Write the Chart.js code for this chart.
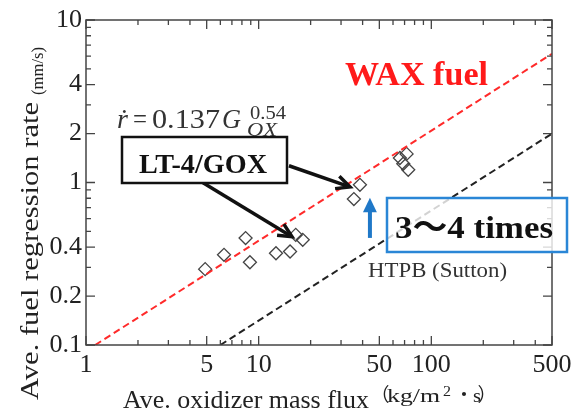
<!DOCTYPE html>
<html>
<head>
<meta charset="utf-8">
<script src="https://cdn.jsdelivr.net/npm/chart.js@4"></script>
<style>
  html, body { margin: 0; padding: 0; background: #fff; }
  #wrap { width: 581px; height: 416px; }
</style>
</head>
<body>
<div id="wrap"><canvas id="regChart" width="581" height="416"></canvas></div>
<script>
// Measured LT-4/GOX points (oxidizer mass flux kg/m2s, regression rate mm/s)
const fluxValues = [4.9, 6.3, 8.4, 8.9, 12.6, 15.2, 16.4, 18.0, 35.6, 38.6, 65.8, 68.8, 71.9, 73.5];
const rateValues = [0.293, 0.359, 0.455, 0.323, 0.367, 0.376, 0.476, 0.444, 0.791, 0.968, 1.415, 1.305, 1.50, 1.198];

// Reference lines (end points as drawn)
const waxLineX = [1.13, 500];
const waxLineY = [0.1, 6.2];
const htpbLineX = [6.0, 500];
const htpbLineY = [0.1, 2.0];

// Tick labels
const xTickLabels = [1, 5, 10, 50, 100, 500];
const yTickLabels = [0.1, 0.2, 0.4, 1, 2, 4, 10];

const SERIF = "'Liberation Serif', 'Times New Roman', serif";
const CJK = "'Liberation Serif', 'Noto Sans CJK JP', serif";

function toPoints(xs, ys) {
  return xs.map((x, i) => ({ x: x, y: ys[i] }));
}

// decade-style minor tick positions between min and max
function logTicks(min, max) {
  const out = [];
  for (let d = Math.pow(10, Math.floor(Math.log10(min))); d <= max; d *= 10) {
    for (let k = 1; k <= 9; k++) {
      const v = +(k * d).toPrecision(6);
      if (v >= min && v <= max) out.push(v);
    }
  }
  return out;
}

// draw text stretched/squeezed to a given width (left aligned)
function fitText(ctx, text, x, y, width, font) {
  ctx.save();
  ctx.font = font;
  ctx.textAlign = 'left';
  const w = ctx.measureText(text).width;
  ctx.translate(x, y);
  ctx.scale(width / w, 1);
  ctx.fillText(text, 0, 0);
  ctx.restore();
}

function drawArrow(ctx, x1, y1, x2, y2, color, width, head, filled) {
  const a = Math.atan2(y2 - y1, x2 - x1);
  ctx.save();
  ctx.strokeStyle = color;
  ctx.fillStyle = color;
  ctx.lineWidth = width;
  ctx.beginPath();
  ctx.moveTo(x1, y1);
  ctx.lineTo(x2 - Math.cos(a) * (filled ? head * 0.8 : 1), y2 - Math.sin(a) * (filled ? head * 0.8 : 1));
  ctx.stroke();
  const p1 = [x2 - head * Math.cos(a - 0.45), y2 - head * Math.sin(a - 0.45)];
  const p2 = [x2 - head * Math.cos(a + 0.45), y2 - head * Math.sin(a + 0.45)];
  ctx.beginPath();
  if (filled) {
    ctx.moveTo(x2, y2); ctx.lineTo(p1[0], p1[1]); ctx.lineTo(p2[0], p2[1]); ctx.closePath();
    ctx.fill();
  } else {
    ctx.moveTo(p1[0], p1[1]); ctx.lineTo(x2, y2); ctx.lineTo(p2[0], p2[1]);
    ctx.stroke();
  }
  ctx.restore();
}

// Frame, inward ticks, titles and annotations
const decorPlugin = {
  id: 'decor',
  afterDatasetsDraw(chart) {
    const ctx = chart.ctx;
    const a = chart.chartArea;
    const sx = chart.scales.x, sy = chart.scales.y;
    const X = v => sx.getPixelForValue(v);
    const Y = v => sy.getPixelForValue(v);

    ctx.save();
    ctx.strokeStyle = '#444';
    ctx.lineWidth = 1.5;
    ctx.strokeRect(a.left, a.top, a.right - a.left, a.bottom - a.top);

    ctx.lineWidth = 1.3;
    ctx.beginPath();
    logTicks(1, 500).forEach(v => {
      const len = xTickLabels.includes(v) ? 9 : 5;
      const px = X(v);
      ctx.moveTo(px, a.bottom); ctx.lineTo(px, a.bottom - len);
      ctx.moveTo(px, a.top); ctx.lineTo(px, a.top + len);
    });
    logTicks(0.1, 10).forEach(v => {
      const len = yTickLabels.includes(v) ? 9 : 5;
      const py = Y(v);
      ctx.moveTo(a.left, py); ctx.lineTo(a.left + len, py);
      ctx.moveTo(a.right, py); ctx.lineTo(a.right - len, py);
    });
    ctx.stroke();

    // axis titles
    ctx.fillStyle = '#222';
    ctx.textBaseline = 'alphabetic';
    fitText(ctx, 'Ave. oxidizer mass flux', 123, 408, 246, '25px ' + SERIF);
    ctx.font = '19px ' + CJK;
    ctx.textAlign = 'center';
    ctx.fillText('（', 380, 402);
    ctx.textAlign = 'left';
    fitText(ctx, 'kg/m', 387, 402, 53, '19px ' + SERIF);
    fitText(ctx, '2', 443, 396, 8, '14px ' + SERIF);
    ctx.textAlign = 'center';
    ctx.font = '19px ' + CJK;
    ctx.fillText('・', 464, 402);
    ctx.fillText('）', 487, 402);
    ctx.textAlign = 'left';
    fitText(ctx, 's', 473, 402, 8, '19px ' + SERIF);

    ctx.save();
    ctx.translate(38, 400);
    ctx.rotate(-Math.PI / 2);
    fitText(ctx, 'Ave. fuel regression rate', 0, 0, 298, '26px ' + SERIF);
    ctx.restore();
    ctx.save();
    ctx.translate(43, 95);
    ctx.rotate(-Math.PI / 2);
    fitText(ctx, '(mm/s)', 0, 0, 48, '17px ' + SERIF);
    ctx.restore();

    // WAX fuel label
    ctx.fillStyle = '#ff1a1a';
    fitText(ctx, 'WAX fuel', 345, 85, 143, 'bold 33px ' + SERIF);

    // regression law
    ctx.fillStyle = '#333';
    ctx.font = "italic 28px 'Liberation Serif', 'DejaVu Serif', serif";
    ctx.textAlign = 'left';
    ctx.fillText('ṙ', 117, 128);
    fitText(ctx, '=', 133, 128, 14, '28px ' + SERIF);
    fitText(ctx, '0.137', 152, 128, 68, '28px ' + SERIF);
    fitText(ctx, 'G', 222, 128, 19, 'italic 28px ' + SERIF);
    fitText(ctx, '0.54', 250, 119, 36, '19px ' + SERIF);
    fitText(ctx, 'OX', 247, 136, 30, 'italic 18px ' + SERIF);

    // LT-4/GOX box and arrows
    drawArrow(ctx, X(14.98), Y(1.268), X(33.8), Y(0.94), '#111', 3.5, 15, false);
    drawArrow(ctx, X(4.76), Y(0.996), X(15.6), Y(0.464), '#111', 3.5, 15, false);
    ctx.fillStyle = '#fff';
    ctx.fillRect(122, 137, 165, 46);
    ctx.strokeStyle = '#111';
    ctx.lineWidth = 2.5;
    ctx.strokeRect(122, 137, 165, 46);
    ctx.fillStyle = '#111';
    fitText(ctx, 'LT-4/GOX', 139, 173, 128, 'bold 27px ' + SERIF);

    // 3~4 times
    drawArrow(ctx, X(44.1), Y(0.456), X(44.1), Y(0.805), '#1f78c8', 4, 16, true);
    ctx.fillStyle = 'rgba(255,255,255,0.8)';
    ctx.fillRect(387, 198, 180, 54);
    ctx.strokeStyle = '#2a86d6';
    ctx.lineWidth = 2.5;
    ctx.strokeRect(387, 198, 180, 54);
    ctx.fillStyle = '#111';
    fitText(ctx, '3～4 times', 395, 238, 158, "bold 32px 'Liberation Serif', 'Noto Sans CJK JP', serif");

    ctx.fillStyle = '#333';
    fitText(ctx, 'HTPB (Sutton)', 368, 277, 139, '21px ' + SERIF);
    ctx.restore();
  }
};

new Chart(document.getElementById('regChart'), {
  type: 'scatter',
  data: {
    datasets: [
      {
        label: 'WAX fuel',
        data: toPoints(waxLineX, waxLineY),
        showLine: true,
        borderColor: '#ff2a2a',
        borderWidth: 2,
        borderDash: [7, 4],
        pointRadius: 0,
        fill: false,
      },
      {
        label: 'HTPB (Sutton)',
        data: toPoints(htpbLineX, htpbLineY),
        showLine: true,
        borderColor: '#222',
        borderWidth: 2,
        borderDash: [7, 4],
        pointRadius: 0,
        fill: false,
      },
      {
        label: 'LT-4/GOX',
        data: toPoints(fluxValues, rateValues),
        pointStyle: 'rectRot',
        pointRadius: 6.5,
        borderColor: '#444',
        borderWidth: 1.3,
        backgroundColor: 'rgba(255,255,255,0)',
      }
    ]
  },
  options: {
    responsive: false,
    animation: false,
    layout: { padding: { top: 20, right: 29, left: 0, bottom: 0 } },
    plugins: { legend: { display: false }, tooltip: { enabled: false } },
    scales: {
      x: {
        type: 'logarithmic',
        min: 1, max: 500,
        grid: { display: false, drawTicks: false, tickLength: 0 },
        border: { display: false },
        afterBuildTicks: s => { s.ticks = xTickLabels.map(v => ({ value: v })); },
        afterFit: s => { s.height = 71; },
        ticks: {
          autoSkip: false, maxRotation: 0, padding: 5,
          color: '#222',
          font: { family: SERIF, size: 26 },
          callback: v => String(v)
        }
      },
      y: {
        type: 'logarithmic',
        min: 0.1, max: 10,
        grid: { display: false, drawTicks: false, tickLength: 0 },
        border: { display: false },
        afterBuildTicks: s => { s.ticks = yTickLabels.map(v => ({ value: v })); },
        afterFit: s => { s.width = 86; },
        ticks: {
          autoSkip: false, padding: 4,
          color: '#222',
          font: { family: SERIF, size: 26 },
          callback: v => String(v)
        }
      }
    }
  },
  plugins: [decorPlugin]
});
</script>
</body>
</html>
